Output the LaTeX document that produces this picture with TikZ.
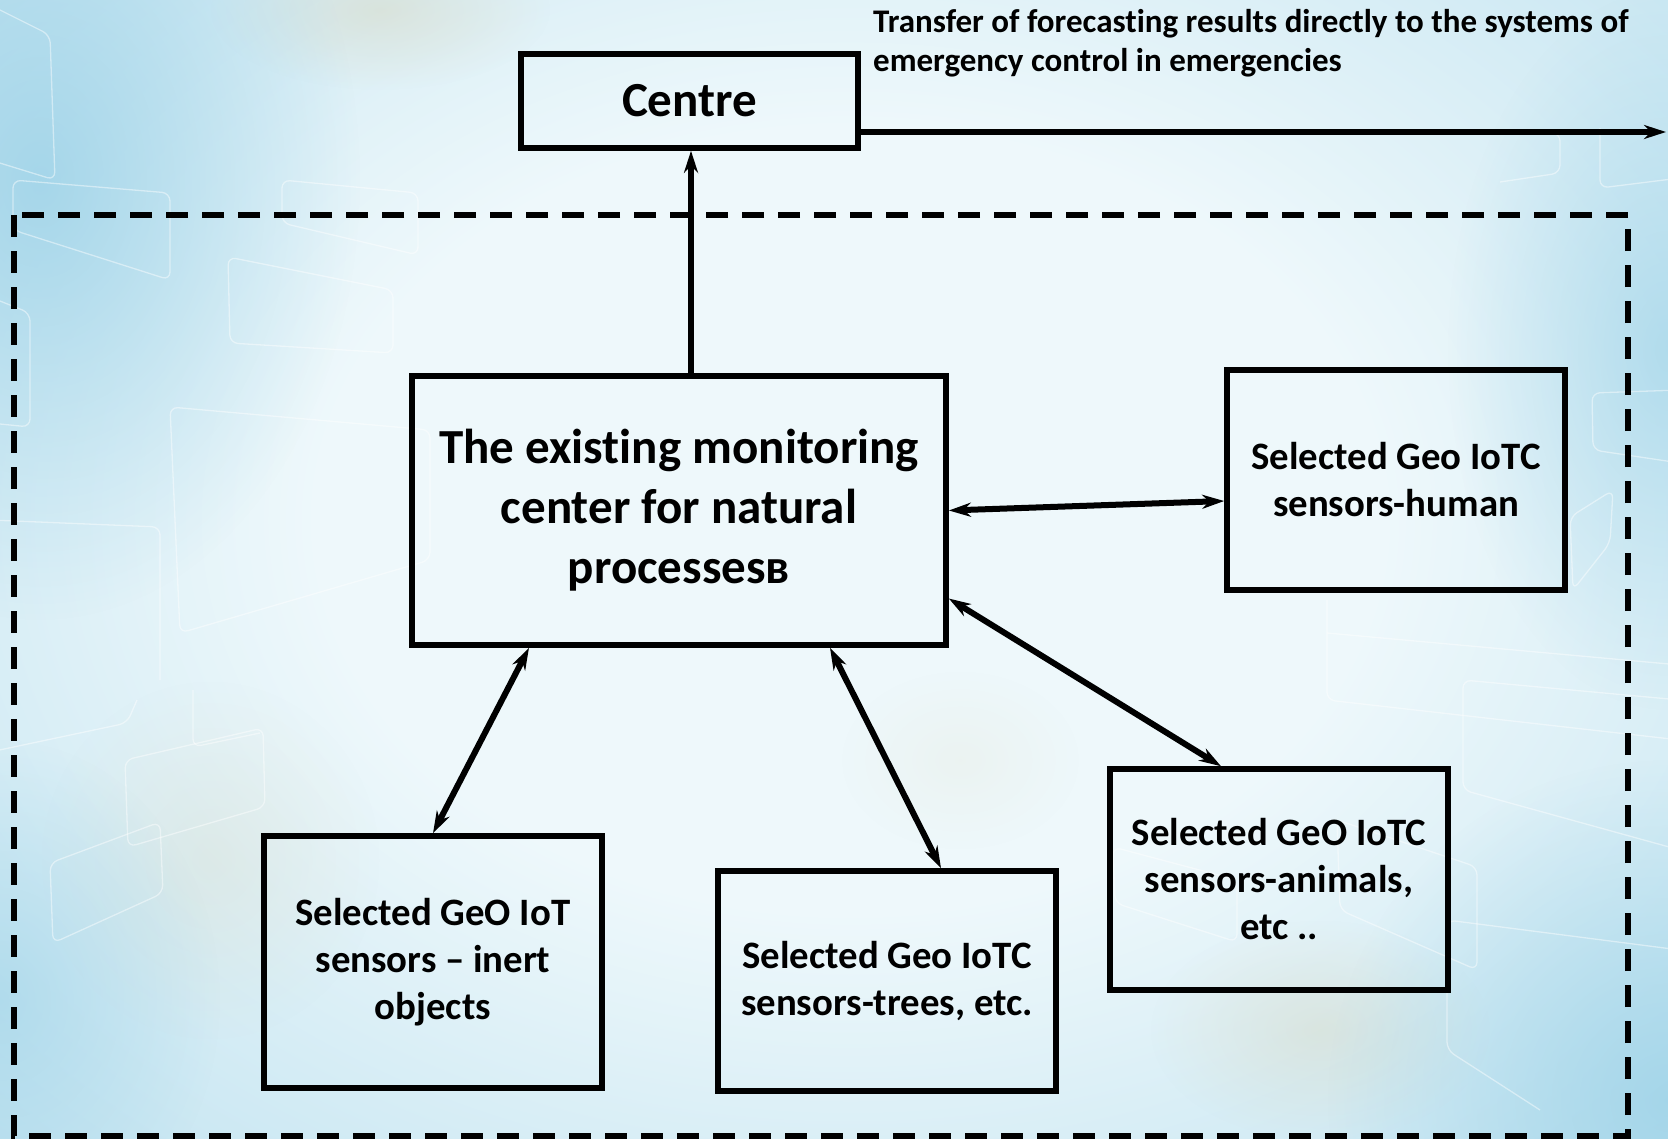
\documentclass[tikz,border=0pt]{standalone}
\usepackage{fontspec}
\setmainfont{Carlito}[Ligatures={NoCommon}]
\usetikzlibrary{arrows.meta,fadings}

\definecolor{bgEdge}{RGB}{150,207,230}
\definecolor{bgMid}{RGB}{238,248,251}
\definecolor{bgWarm}{RGB}{214,206,172}

\tikzfading[name=softspot, inner color=transparent!0, outer color=transparent!100]
\pgfdeclareradialshading{backglow}{\pgfpoint{0bp}{0bp}}{color(0bp)=(bgMid); color(7bp)=(bgMid); color(25bp)=(bgEdge); color(50bp)=(bgEdge)}

\tikzset{
  box/.style={draw, line width=5.6pt, inner sep=0pt, align=center,
    font=\bfseries\fontsize{38.8}{47}\selectfont},
  bigbox/.style={box, font=\bfseries\fontsize{49}{60}\selectfont},
  headtip/.tip={Stealth[length=22pt, width=14pt, inset=7pt]},
  link/.style={line width=6pt, headtip-headtip},
  uplink/.style={line width=6.2pt, -headtip},
  frame/.style={line width=5.6pt, dash pattern=on 22pt off 14pt},
  deco/.style={white, opacity=0.45, line width=1.3pt, rounded corners=8pt},
}

\begin{document}
\begin{tikzpicture}[x=1pt, y=-1pt]
\useasboundingbox (0,0) rectangle (1668,1138);

% background wash
\fill[bgEdge] (0,0) rectangle (1668,1138);
\begin{scope}
  \clip (0,0) rectangle (1668,1138);
  \shade[shading=backglow] (850,520) ellipse [x radius=1900pt, y radius=1400pt];
  \fill[bgWarm, path fading=softspot, fill opacity=0.35] (380,10) ellipse [x radius=170pt, y radius=80pt];
  \fill[bgWarm, path fading=softspot, fill opacity=0.3] (1320,1030) ellipse [x radius=170pt, y radius=110pt];
  \fill[bgWarm, path fading=softspot, fill opacity=0.2] (210,860) ellipse [x radius=170pt, y radius=180pt];
  \fill[bgWarm, path fading=softspot, fill opacity=0.12] (960,760) ellipse [x radius=120pt, y radius=90pt];
  \fill[bgEdge, path fading=softspot, fill opacity=0.75] (40,180) ellipse [x radius=320pt, y radius=440pt];
  \fill[bgEdge, path fading=softspot, fill opacity=0.7] (1668,1100) ellipse [x radius=340pt, y radius=340pt];
  \fill[bgEdge, path fading=softspot, fill opacity=0.6] (1668,350) ellipse [x radius=220pt, y radius=360pt];
  \fill[bgEdge, path fading=softspot, fill opacity=0.5] (0,1000) ellipse [x radius=220pt, y radius=260pt];

  % faint card outlines
  \draw[deco] (-10,5) -- (50,35) -- (55,180) -- (-10,160);
  \draw[deco] (13,180) -- (170,193) -- (170,280) -- (13,230) -- cycle;
  \draw[deco] (282,180) -- (418,193) -- (418,255) -- (282,223) -- cycle;
  \draw[deco] (228,257) -- (393,290) -- (393,353) -- (230,343) -- cycle;
  \draw[deco] (-10,297) -- (30,313) -- (30,427) -- (-10,423);
  \draw[deco] (170,407) -- (430,430) -- (430,560) -- (180,633) -- cycle;
  \draw[deco] (-10,520) -- (160,527) -- (160,680);
  \draw[deco] (-10,752) -- (127,723) -- (137,700);
  \draw[deco] (50,863) -- (160,822) -- (163,893) -- (53,943) -- cycle;
  \draw[deco] (125,760) -- (263,728) -- (265,807) -- (128,847) -- cycle;
  \draw[deco] (193,690) -- (193,747) -- (260,733);
  \draw[deco] (1600,128) -- (1600,188) -- (1680,178);
  \draw[deco] (1500,133) -- (1560,133) -- (1560,173) -- (1500,182);
  \draw[deco] (1680,390) -- (1592,393) -- (1593,450) -- (1680,463);
  \draw[deco] (1570,517) -- (1613,490) -- (1610,543) -- (1573,590) -- cycle;
  \draw[deco] (1680,700) -- (1463,680) -- (1463,790) -- (1680,850);
  \draw[deco] (1680,950) -- (1447,920) -- (1447,1050) -- (1540,1110);
  \draw[deco] (1337,820) -- (1477,867) -- (1477,970) -- (1340,910) -- cycle;
  \draw[deco] (1113,847) -- (1237,880) -- (1237,942) -- (1115,903) -- cycle;
  \draw[deco] (1327,633) -- (1680,665);
  \draw[deco] (1327,600) -- (1327,700) -- (1680,740);
\end{scope}

% dashed boundary of the monitoring network
\draw[frame] (14,215) rectangle (1628,1136);

% blocks
\node[bigbox, minimum width=337pt, minimum height=94pt] (centre) at (689.5,101) {Centre};
\node[bigbox, minimum width=534pt, minimum height=269pt] (main) at (679,510.5)
  {The existing monitoring\\center for natural\\processesв};
\node[box, minimum width=338pt, minimum height=220pt] (human) at (1396,480)
  {Selected Geo IoTC\\sensors-human};
\node[box, minimum width=338pt, minimum height=221pt] (animals) at (1279,879.5)
  {Selected GeO IoTC\\sensors-animals,\\etc ..};
\node[box, minimum width=338pt, minimum height=220pt] (trees) at (887,981)
  {Selected Geo IoTC\\sensors-trees, etc.};
\node[box, minimum width=338pt, minimum height=252pt] (inert) at (433,962)
  {Selected GeO IoT\\sensors -- inert\\objects};

\node[anchor=west, align=left, inner sep=0pt, font=\bfseries\fontsize{33}{39.5}\selectfont] (note) at (873,43)
  {Transfer of forecasting results directly to the systems of\\emergency control in emergencies};

\coordinate (exit) at (1666,132);

% connectors
\draw[uplink] ([xshift=12pt]main.north) -- ([xshift=12pt]main.north |- centre.south);
\draw[uplink] ([yshift=-31pt]centre.east) -- (exit);
\draw[link] (main.east) -- ([yshift=-21pt]human.west);
\draw[link] ([yshift=-88pt]main.east) -- ([xshift=-58pt]animals.north);
\draw[link] ([xshift=151pt]main.south) -- ([xshift=54pt]trees.north);
\draw[link] ([xshift=-150pt]main.south) -- (inert.north);
\end{tikzpicture}
\end{document}
